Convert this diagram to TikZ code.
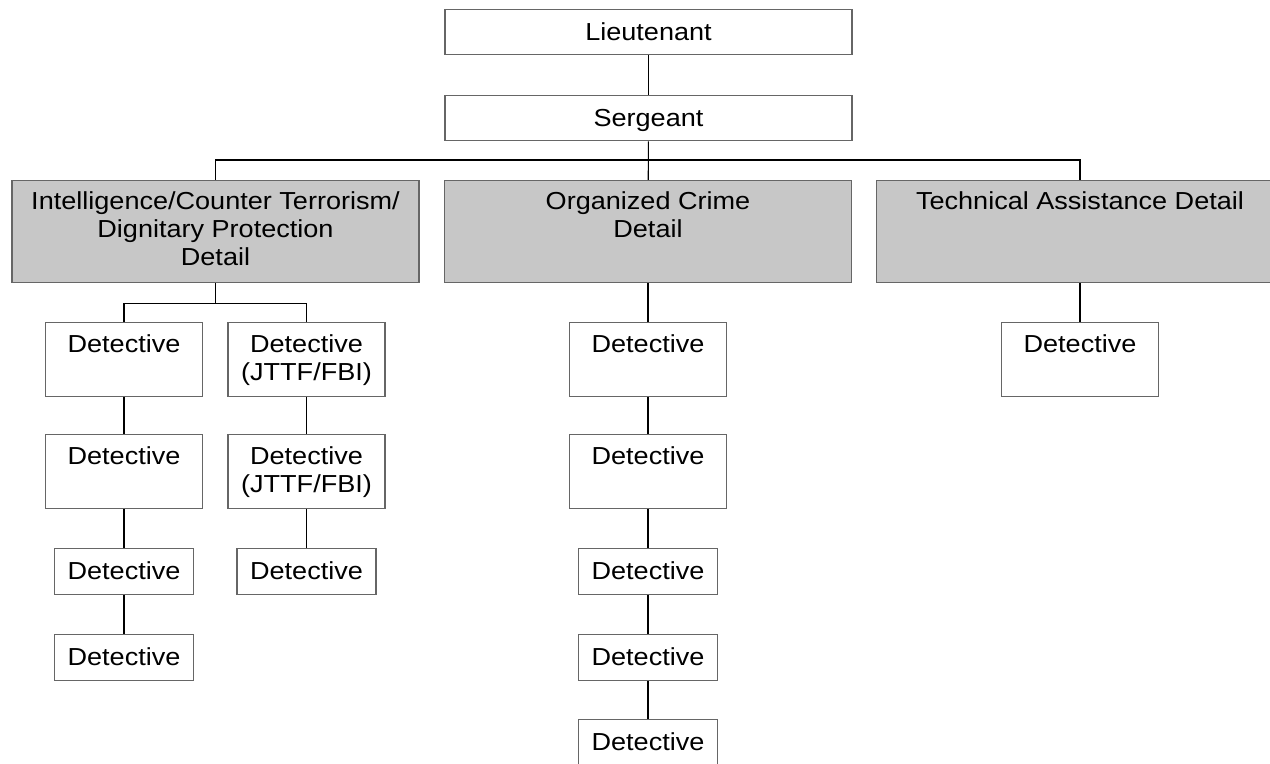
\documentclass[tikz,border=0pt]{standalone}
\usepackage{fontspec}
\setmainfont[FakeStretch=1.1]{Liberation Sans}
\usepackage{xcolor}
\usepackage{tikz}

% several lines, baseline on the first one
\newcommand{\boxlines}[1]{\begin{tabular}[t]{@{}c@{}}#1\end{tabular}}

\begin{document}
\begin{tikzpicture}[
    box/.style={draw=black!60, line width=0.8pt, fill=white, inner xsep=0pt, inner ysep=0pt,
        font=\fontsize{14}{16}\selectfont, anchor=north},
    topbox/.style={box, minimum width=8.14cm, text height=0.62cm, text depth=0.28cm},
    unitbox/.style={box, fill=black!22, minimum width=8.14cm, text height=0.58cm, text depth=1.46cm},
    detbox/.style={box, minimum width=3.14cm, text height=0.6cm, text depth=0.88cm},
    smallbox/.style={box, minimum width=2.78cm, text height=0.62cm, text depth=0.3cm},
    link/.style={line width=0.6pt}
]
    \useasboundingbox (0,0) rectangle (25.4,-15.28);

    \node[topbox] (lieut) at (12.97,-0.18) {Lieutenant};
    \node[topbox] (serg) at (12.97,-1.9) {Sergeant};

    \node[unitbox] (intel) at (4.31,-3.6) {\boxlines{Intelligence/Counter Terrorism/\\Dignitary Protection\\Detail}};
    \node[unitbox] (orgcrime) at (12.96,-3.6) {\boxlines{Organized Crime\\Detail}};
    \node[unitbox] (techassist) at (21.6,-3.6) {Technical Assistance Detail};

    \node[detbox] (intdet1) at (2.48,-6.44) {Detective};
    \node[detbox] (intdet2) at (2.48,-8.68) {Detective};
    \node[smallbox] (intdet3) at (2.48,-10.96) {Detective};
    \node[smallbox] (intdet4) at (2.48,-12.68) {Detective};

    \node[detbox] (jttf1) at (6.13,-6.44) {\boxlines{Detective\\(JTTF/FBI)}};
    \node[detbox] (jttf2) at (6.13,-8.68) {\boxlines{Detective\\(JTTF/FBI)}};
    \node[smallbox] (jttf3) at (6.13,-10.96) {Detective};

    \node[detbox] (ocdet1) at (12.96,-6.44) {Detective};
    \node[detbox] (ocdet2) at (12.96,-8.68) {Detective};
    \node[smallbox] (ocdet3) at (12.96,-10.96) {Detective};
    \node[smallbox] (ocdet4) at (12.96,-12.68) {Detective};
    \node[smallbox] (ocdet5) at (12.96,-14.38) {Detective};

    \node[detbox] (tadet1) at (21.6,-6.44) {Detective};

    \draw[link] (lieut) -- (serg);
    \draw[link] (serg) -- (orgcrime);
    \draw[link] (intel.north) -- ++(0,0.4) -| (techassist.north);

    \draw[link] (intel.south) -- ++(0,-0.4) coordinate (intsplit);
    \draw[link] (intdet1.north) |- (intsplit) -| (jttf1.north);
    \draw[link] (intdet1) -- (intdet2);
    \draw[link] (intdet2) -- (intdet3);
    \draw[link] (intdet3) -- (intdet4);
    \draw[link] (jttf1) -- (jttf2);
    \draw[link] (jttf2) -- (jttf3);

    \draw[link] (orgcrime) -- (ocdet1);
    \draw[link] (ocdet1) -- (ocdet2);
    \draw[link] (ocdet2) -- (ocdet3);
    \draw[link] (ocdet3) -- (ocdet4);
    \draw[link] (ocdet4) -- (ocdet5);

    \draw[link] (techassist) -- (tadet1);
\end{tikzpicture}
\end{document}
